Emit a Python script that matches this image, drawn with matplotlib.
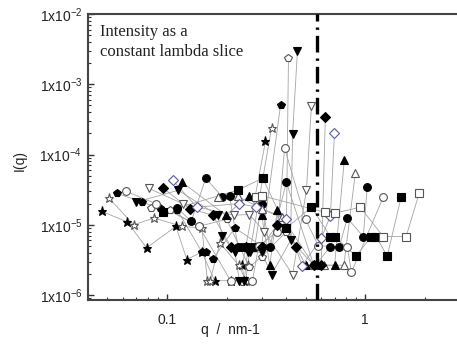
import matplotlib
matplotlib.use("Agg")
import matplotlib.pyplot as plt
from matplotlib.ticker import LogLocator, FixedLocator, NullFormatter

plt.rcParams["font.family"] = ["Liberation Sans", "DejaVu Sans"]
plt.rcParams["mathtext.default"] = "regular"

# --- data (q in nm^-1, I(q)) ---
star_f_q = [0.047, 0.063, 0.079, 0.111, 0.126, 0.150, 0.174, 0.210, 0.245, 0.240, 0.314]
star_f_I = [1.55e-5, 1.1e-5, 4.7e-6, 9.5e-6, 3.2e-6, 4.1e-6, 1.6e-6, 1.6e-6, 1.6e-6, 2.66e-6, 1.55e-4]

star_o_q = [0.051, 0.068, 0.086, 0.119, 0.150, 0.160, 0.165, 0.185, 0.230, 0.250, 0.255, 0.337]
star_o_I = [2.4e-5, 1.0e-5, 1.25e-5, 9.5e-6, 9.0e-6, 1.6e-6, 1.6e-6, 5.5e-6, 2.66e-6, 1.6e-6, 2.66e-6, 2.38e-4]

pent_f_q = [0.056, 0.075, 0.092, 0.113, 0.150, 0.157, 0.170, 0.220, 0.300, 0.374]
pent_f_I = [2.8e-5, 2.1e-5, 1.72e-5, 1.6e-5, 4.1e-6, 4.1e-6, 3.24e-6, 9e-6, 5e-6, 5.06e-4]

pent_o_q = [0.083, 0.1035, 0.145, 0.200, 0.260, 0.300, 0.400, 0.410]
pent_o_I = [1.72e-5, 1.61e-5, 9.5e-6, 1.2e-5, 2.5e-6, 3.5e-6, 8e-6, 2.36e-3]

circ_f_q = [0.113, 0.1325, 0.157, 0.190, 0.207, 0.228, 0.236, 0.245, 0.254, 0.260, 0.268, 0.277,
            0.300, 0.330, 0.400, 0.550, 0.560, 0.667, 0.740, 0.812, 0.977, 1.023]
circ_f_I = [1.72e-5, 1.12e-5, 4.6e-5, 2.5e-5, 2.55e-5, 4.9e-6, 4.9e-6, 4.9e-6, 4.9e-6, 4.9e-6,
            4.9e-6, 4.9e-6, 2.0e-5, 4.9e-6, 4.0e-5, 2.66e-6, 2.66e-6, 4.9e-6, 4.9e-6, 1.24e-5,
            6.8e-6, 3.43e-5]

circ_o_q = [0.0622, 0.088, 0.145, 0.210, 0.238, 0.270, 0.290, 0.360, 0.392, 0.500, 0.580,
            0.812, 0.851, 1.231]
circ_o_I = [3.0e-5, 2.0e-5, 9.5e-6, 1.58e-6, 1.6e-6, 1.6e-6, 5.0e-6, 8e-6, 1.23e-4, 1.2e-5, 5e-6,
            4.9e-6, 2.1e-6, 2.47e-5]

vtri_f_q = [0.070, 0.114, 0.180, 0.190, 0.220, 0.232, 0.245, 0.255, 0.262, 0.300, 0.337,
            0.420, 0.430, 0.455]
vtri_f_I = [2.1e-5, 3.1e-5, 1.37e-5, 7e-6, 4.07e-6, 1.6e-6, 1.6e-6, 4.07e-6, 4.07e-6, 4.07e-6,
            1.95e-6, 6e-6, 1.95e-4, 2.97e-3]

vtri_o_q = [0.081, 0.120, 0.217, 0.260, 0.310, 0.430, 0.505, 0.535]
vtri_o_I = [3.3e-5, 2.0e-5, 1.37e-5, 1.4e-5, 8e-6, 1.95e-6, 3.1e-5, 4.89e-4]

tri_f_q = [0.119, 0.198, 0.260, 0.300, 0.330, 0.360, 0.500, 0.600, 0.700, 0.784]
tri_f_I = [4.05e-5, 1.37e-5, 2.6e-5, 1.4e-5, 2.66e-6, 1.6e-5, 2.66e-6, 2.66e-6, 2.66e-6, 8.3e-5]

tri_o_q = [0.180, 0.227, 0.300, 0.380, 0.550, 0.620, 0.780, 0.891]
tri_o_I = [2.5e-5, 2.55e-5, 1.7e-5, 1.3e-5, 2.66e-6, 2.66e-6, 2.66e-6, 5.4e-5]

dia_f_q = [0.0955, 0.130, 0.170, 0.210, 0.250, 0.300, 0.360, 0.450, 0.550, 0.600, 0.629]
dia_f_I = [3.32e-5, 1.7e-5, 1.37e-5, 4.9e-6, 4.9e-6, 4.9e-6, 1.0e-5, 4.9e-6, 2.66e-6, 2.66e-6, 3.41e-4]

dia_o_q = [0.107, 0.1415, 0.230, 0.280, 0.400, 0.480, 0.600, 0.667, 0.699]
dia_o_I = [4.3e-5, 1.78e-5, 2.0e-5, 1.8e-5, 1.2e-5, 2.6e-6, 6.45e-6, 1.33e-5, 2.02e-4]

sq_f_q = [0.0955, 0.227, 0.304, 0.400, 0.535, 0.667, 0.700, 0.900, 1.070, 1.136, 1.290, 1.516]
sq_f_I = [1.51e-5, 3.11e-5, 4.6e-5, 9e-6, 1.78e-5, 6.8e-6, 6.8e-6, 3.57e-6, 6.8e-6, 6.8e-6,
          3.57e-6, 2.47e-5]

sq_o_q = [0.280, 0.300, 0.630, 0.700, 0.944, 1.231, 1.607, 1.870]
sq_o_I = [2.5e-5, 2.6e-5, 1.5e-5, 1.46e-5, 1.78e-5, 6.8e-6, 6.8e-6, 2.82e-5]

slice_q = 0.574

# (q, I, marker, filled, edge colour)
series = [
    (star_f_q, star_f_I, "*", True, "black"),
    (star_o_q, star_o_I, "*", False, "#555555"),
    (pent_f_q, pent_f_I, "p", True, "black"),
    (pent_o_q, pent_o_I, "p", False, "#555555"),
    (circ_f_q, circ_f_I, "o", True, "black"),
    (circ_o_q, circ_o_I, "o", False, "#555555"),
    (vtri_f_q, vtri_f_I, "v", True, "black"),
    (vtri_o_q, vtri_o_I, "v", False, "#555555"),
    (tri_f_q, tri_f_I, "^", True, "black"),
    (tri_o_q, tri_o_I, "^", False, "#555555"),
    (dia_f_q, dia_f_I, "D", True, "black"),
    (dia_o_q, dia_o_I, "D", False, "#5a5aa0"),
    (sq_f_q, sq_f_I, "s", True, "black"),
    (sq_o_q, sq_o_I, "s", False, "#555555"),
]

fig = plt.figure(figsize=(4.57, 3.45), dpi=100)
ax = fig.add_axes([88 / 457, 45 / 345, 369 / 457, 286 / 345])

for q, I, m, filled, ec in series:
    ax.plot(q, I, "-", color="#a4a4a4", lw=0.6, zorder=2)
for q, I, m, filled, ec in series:
    ms = 6.5 if m == "*" else (5 if m == "D" else 5.6)
    ax.plot(q, I, ls="none", marker=m, ms=ms,
            mfc=ec if filled else "white", mec=ec, mew=0.8, zorder=3)

ax.axvline(slice_q, color="black", lw=2.4, ls=(0, (5, 1.8, 0.7, 1.8)), zorder=4)

ax.set_xscale("log")
ax.set_yscale("log")
ax.set_xlim(0.04, 2.9)
ax.set_ylim(0.85e-6, 1e-2)

ax.yaxis.set_major_locator(FixedLocator([1e-6, 1e-5, 1e-4, 1e-3, 1e-2]))
ax.set_yticklabels([r"1x10$^{-6}$", r"1x10$^{-5}$", r"1x10$^{-4}$",
                    r"1x10$^{-3}$", r"1x10$^{-2}$"])
ax.yaxis.set_minor_locator(LogLocator(base=10, subs=range(2, 10), numticks=20))
ax.yaxis.set_minor_formatter(NullFormatter())
ax.xaxis.set_major_locator(FixedLocator([0.1, 1]))
ax.set_xticklabels(["0.1", "1"])
ax.xaxis.set_minor_locator(LogLocator(base=10, subs=range(2, 10), numticks=20))
ax.xaxis.set_minor_formatter(NullFormatter())

ax.tick_params(which="both", direction="in", top=False, right=False,
               color="#333333", labelsize=10, labelcolor="#222222")
ax.tick_params(which="major", length=4.5, width=1)
ax.tick_params(which="minor", length=2.5, width=0.8)
ax.tick_params(axis="x", pad=9)
ax.tick_params(axis="y", pad=4)

for side in ["left", "bottom", "top"]:
    ax.spines[side].set_color("#444444")
    ax.spines[side].set_linewidth(1.5)
ax.spines["right"].set_visible(False)

ax.text(0.032, 0.965, "Intensity as a\nconstant lambda slice", transform=ax.transAxes,
        ha="left", va="top", fontsize=12, family=["Liberation Serif", "DejaVu Serif"],
        linespacing=1.3, color="#222222")

fig.text(20 / 457, 1 - 160 / 345, "I(q)", rotation=90, ha="center", va="center",
         fontsize=10, color="#222222")
fig.text(230 / 457, 1 - 330 / 345, "q  /  nm-1", ha="center", va="center",
         fontsize=10, color="#222222")

fig.savefig("out.png", dpi=100)
